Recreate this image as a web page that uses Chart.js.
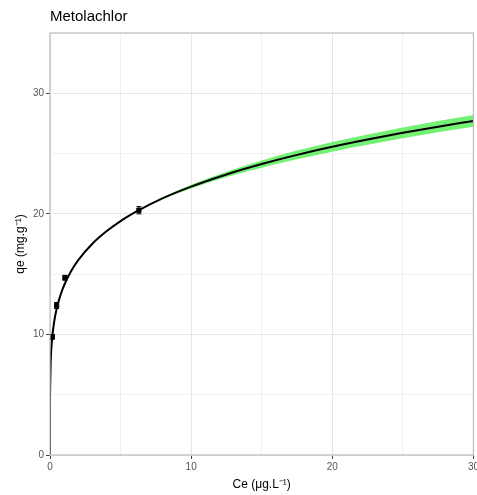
<!DOCTYPE html>
<html>
<head>
<meta charset="utf-8">
<script src="https://cdn.jsdelivr.net/npm/chart.js@4"></script>
<style>
  html, body { margin: 0; padding: 0; background: #fff; overflow: hidden; }
  #wrap { width: 477px; height: 495px; overflow: hidden; }
</style>
</head>
<body>
<div id="wrap"><canvas id="chart" width="481" height="495"></canvas></div>
<script>
// Ce (µg/L) and qe (mg/g)
const ceObs = [0.16, 0.47, 1.06, 6.3];
const qeObs = [9.8, 12.4, 14.7, 20.3];
const qeErr = [0.2, 0.25, 0.2, 0.3];

// fitted curve and its confidence band
const ceFit = [0, 0.002, 0.01, 0.05, 0.15, 0.3, 0.5, 0.75, 1, 1.5, 2, 3, 4, 5, 6.3, 8, 10, 12.5, 15, 17.5, 20, 22.5, 25, 27.5, 30];
const qeFit = [0, 4.09, 5.63, 7.76, 9.65, 11.08, 12.27, 13.29, 14.08, 15.26, 16.16, 17.52, 18.55, 19.4, 20.3, 21.3, 22.26, 23.27, 24.13, 24.89, 25.56, 26.16, 26.72, 27.23, 27.71];
const qeUpper = [0, 4.11, 5.66, 7.81, 9.71, 11.14, 12.33, 13.35, 14.14, 15.31, 16.21, 17.57, 18.59, 19.44, 20.35, 21.38, 22.41, 23.49, 24.43, 25.25, 25.96, 26.59, 27.17, 27.7, 28.2];
const qeLower = [0, 4.07, 5.6, 7.71, 9.59, 11.02, 12.21, 13.23, 14.02, 15.21, 16.11, 17.47, 18.51, 19.36, 20.25, 21.22, 22.11, 23.05, 23.83, 24.53, 25.16, 25.73, 26.27, 26.76, 27.22];

const xTicks = [0, 10, 20, 30];
const yTicks = [0, 10, 20, 30];

const toXY = (xs, ys) => xs.map((x, i) => ({ x: x, y: ys[i] }));
const isMajor = (v, list) => list.includes(v);

// title, axis titles, panel border, error bars
const decorations = {
  id: "decorations",
  afterDatasetsDraw(chart) {
    const { ctx, scales } = chart;
    ctx.save();
    // error bars
    ctx.strokeStyle = "#000";
    ctx.lineWidth = 1;
    ceObs.forEach((c, i) => {
      const px = scales.x.getPixelForValue(c);
      const y1 = scales.y.getPixelForValue(qeObs[i] - qeErr[i]);
      const y2 = scales.y.getPixelForValue(qeObs[i] + qeErr[i]);
      ctx.beginPath();
      ctx.moveTo(px, y1); ctx.lineTo(px, y2);
      ctx.moveTo(px - 2.5, y1); ctx.lineTo(px + 2.5, y1);
      ctx.moveTo(px - 2.5, y2); ctx.lineTo(px + 2.5, y2);
      ctx.stroke();
    });
    ctx.restore();
  },
  afterDraw(chart) {
    const { ctx, chartArea: a } = chart;
    ctx.save();
    // panel border
    ctx.strokeStyle = "#bdbdbd";
    ctx.lineWidth = 1.2;
    ctx.strokeRect(a.left, a.top, a.right - a.left, a.bottom - a.top);
    // title
    ctx.fillStyle = "#000";
    ctx.font = "15px 'Liberation Sans', Arial, sans-serif";
    ctx.textAlign = "left";
    ctx.textBaseline = "middle";
    ctx.fillText("Metolachlor", a.left, 17);
    // axis titles
    ctx.font = "12px 'Liberation Sans', Arial, sans-serif";
    ctx.textAlign = "center";
    ctx.fillText("Ce (\u03bcg.L\u207b\u00b9)", (a.left + a.right) / 2, 485);
    ctx.translate(21, (a.top + a.bottom) / 2);
    ctx.rotate(-Math.PI / 2);
    ctx.fillText("qe (mg.g\u207b\u00b9)", 0, 0);
    ctx.restore();
  }
};

new Chart(document.getElementById("chart").getContext("2d"), {
  type: "line",
  data: {
    datasets: [
      {
        label: "upper",
        data: toXY(ceFit, qeUpper),
        order: 3,
        borderWidth: 0,
        pointRadius: 0,
        fill: false,
        cubicInterpolationMode: "monotone",
      },
      {
        label: "lower",
        data: toXY(ceFit, qeLower),
        order: 2,
        borderWidth: 0,
        pointRadius: 0,
        backgroundColor: "#74f074",
        fill: "-1",
        cubicInterpolationMode: "monotone",
      },
      {
        label: "fit",
        data: toXY(ceFit, qeFit),
        order: 1,
        borderColor: "#000",
        borderWidth: 2,
        pointRadius: 0,
        fill: false,
        cubicInterpolationMode: "monotone",
      },
      {
        label: "observed",
        data: toXY(ceObs, qeObs),
        order: 0,
        showLine: false,
        pointStyle: "rect",
        pointRadius: 3,
        backgroundColor: "#000",
        borderColor: "#000",
      },
    ],
  },
  options: {
    responsive: false,
    animation: false,
    layout: { padding: { top: 33, right: 4, left: 0, bottom: 0 } },
    plugins: { legend: { display: false }, tooltip: { enabled: false } },
    scales: {
      x: {
        type: "linear",
        min: 0,
        max: 30,
        afterFit: (s) => { s.height = 40; },
        border: { display: false },
        grid: {
          color: (c) => isMajor(c.tick.value, xTicks) ? "#e6e6e6" : "#f0f0f0",
          tickColor: (c) => isMajor(c.tick.value, xTicks) ? "#444" : "rgba(0,0,0,0)",
          tickLength: 4,
        },
        ticks: {
          stepSize: 5,
          autoSkip: false,
          maxRotation: 0,
          padding: 2,
          color: "#555",
          font: { family: "'Liberation Sans', Arial, sans-serif", size: 10 },
          callback: (v) => isMajor(v, xTicks) ? v : "",
        },
      },
      y: {
        min: 0,
        max: 35,
        afterFit: (s) => { s.width = 50; },
        border: { display: false },
        grid: {
          color: (c) => isMajor(c.tick.value, yTicks) ? "#e6e6e6" : "#f0f0f0",
          tickColor: (c) => isMajor(c.tick.value, yTicks) ? "#444" : "rgba(0,0,0,0)",
          tickLength: 4,
        },
        ticks: {
          stepSize: 5,
          autoSkip: false,
          padding: 2,
          color: "#555",
          font: { family: "'Liberation Sans', Arial, sans-serif", size: 10 },
          callback: (v) => isMajor(v, yTicks) ? v : "",
        },
      },
    },
  },
  plugins: [decorations],
});
</script>
</body>
</html>
